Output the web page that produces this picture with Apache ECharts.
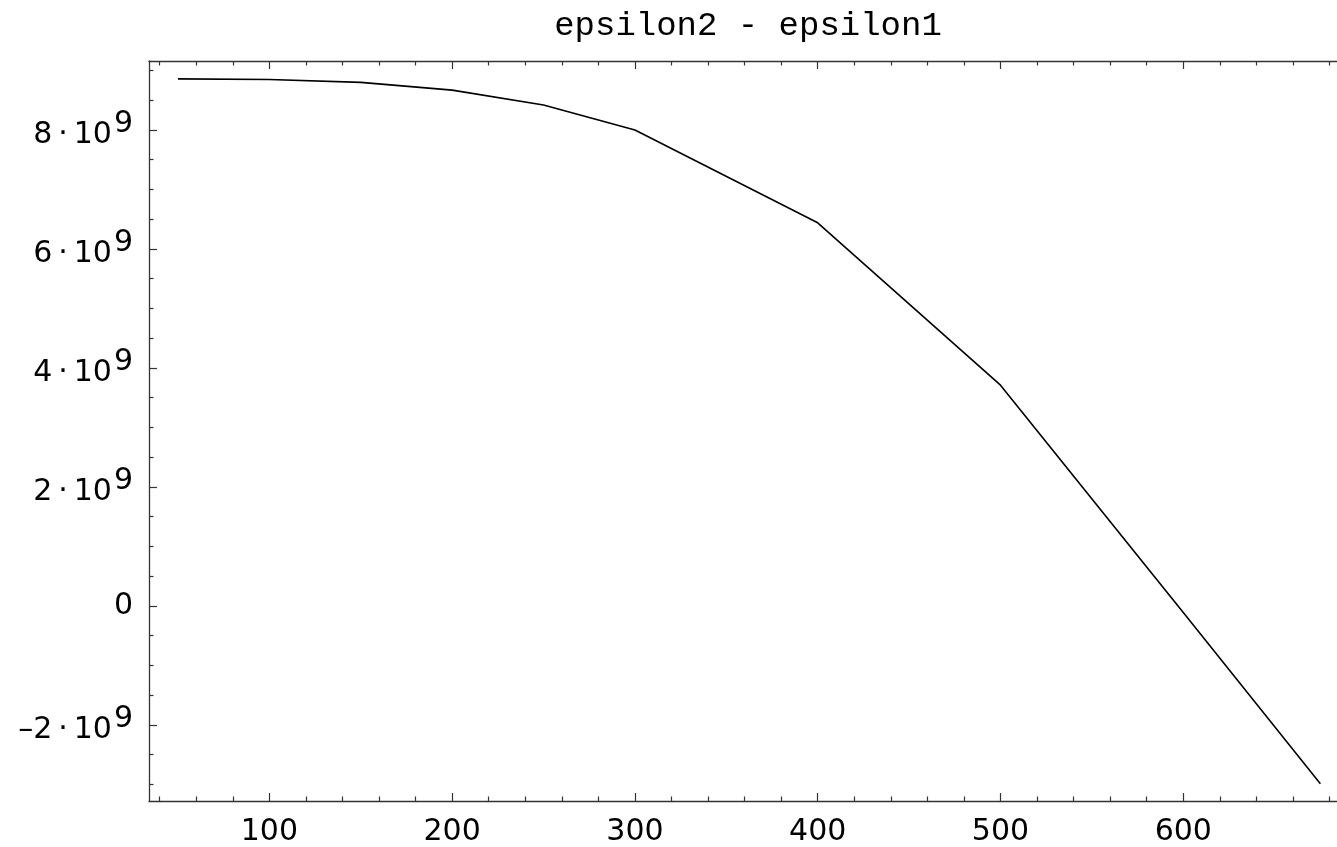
<!DOCTYPE html>
<html>
<head>
<meta charset="utf-8">
<script src="https://cdn.jsdelivr.net/npm/echarts@6/dist/echarts.min.js"></script>
<style>
  html, body { margin: 0; padding: 0; background: #fff; }
  #chart { width: 1337px; height: 847px; }
</style>
</head>
<body>
<div id="chart"></div>
<script>
const TITLE = "epsilon2 - epsilon1";

// sample points
const xValues = [50, 100, 150, 200, 250, 300, 400, 500, 600, 675];
const yValues = [8.86e9, 8.85e9, 8.80e9, 8.67e9, 8.42e9, 8.00e9, 6.44e9, 3.71e9, -0.11e9, -2.99e9];

// tick positions
const xMajorTicks = [100, 200, 300, 400, 500, 600];
const xMinorTicks = [40, 60, 80, 120, 140, 160, 180, 220, 240, 260, 280, 320, 340, 360, 380,
  420, 440, 460, 480, 520, 540, 560, 580, 620, 640, 660, 680];
const yMajorTicks = [-2e9, 0, 2e9, 4e9, 6e9, 8e9];
const yMinorTicks = [-3e9, -2.5e9, -1.5e9, -1e9, -0.5e9, 0.5e9, 1e9, 1.5e9, 2.5e9, 3e9, 3.5e9,
  4.5e9, 5e9, 5.5e9, 6.5e9, 7e9, 7.5e9, 8.5e9, 9e9];

// frame runs past the right edge of the picture
const X_MIN = 34.15, X_MAX = 684.1;
const Y_MIN = -3.28e9, Y_MAX = 9.16e9;

const FRAME = "#333";
const LABEL_FONT = "DejaVu Sans";

function yLabel(v) {
  if (v === 0) return "{b|0}";
  const m = Math.round(v / 1e9);
  const sign = m < 0 ? "\u2013" : "";
  return `{b|${sign}${Math.abs(m)}\u2009\u00b7\u200910}{s|9}`;
}

function xAxisDef(pos, ticks, len, withLabel, withLine) {
  return {
    type: "value",
    position: pos,
    min: X_MIN,
    max: X_MAX,
    axisLine: { show: withLine, onZero: false, lineStyle: { color: FRAME, width: 1.3 } },
    axisTick: { show: true, inside: true, length: len, customValues: ticks, lineStyle: { color: FRAME, width: 1.2 } },
    axisLabel: withLabel
      ? { show: true, customValues: ticks, margin: 16, color: "#000", fontFamily: LABEL_FONT, fontSize: 30 }
      : { show: false },
    splitLine: { show: false },
  };
}

function yAxisDef(ticks, len, withLabel, withLine) {
  return {
    type: "value",
    position: "left",
    min: Y_MIN,
    max: Y_MAX,
    axisLine: { show: withLine, onZero: false, lineStyle: { color: FRAME, width: 1.3 } },
    axisTick: { show: true, inside: true, length: len, customValues: ticks, lineStyle: { color: FRAME, width: 1.2 } },
    axisLabel: withLabel
      ? {
          show: true,
          customValues: ticks,
          margin: 16,
          formatter: yLabel,
          rich: {
            b: { fontFamily: LABEL_FONT, fontSize: 30, color: "#000", verticalAlign: "bottom" },
            s: { fontFamily: LABEL_FONT, fontSize: 30, color: "#000", verticalAlign: "bottom", padding: [0, 0, 11, 2] },
          },
        }
      : { show: false },
    splitLine: { show: false },
  };
}

const chart = echarts.init(document.getElementById("chart"), null, { renderer: "canvas" });

chart.setOption({
  animation: false,
  backgroundColor: "#fff",
  grid: { left: 149, top: 61, right: 0, bottom: 46, containLabel: false },
  graphic: [
    {
      type: "text",
      x: 748,
      y: 26,
      style: {
        text: TITLE,
        fill: "#000",
        font: '34px "Liberation Mono", "DejaVu Sans Mono", monospace',
        textAlign: "center",
        textVerticalAlign: "middle",
      },
    },
  ],
  xAxis: [
    xAxisDef("bottom", xMajorTicks, 8, true, true),
    xAxisDef("bottom", xMinorTicks, 4.5, false, false),
    xAxisDef("top", xMajorTicks, 8, false, true),
    xAxisDef("top", xMinorTicks, 4.5, false, false),
  ],
  yAxis: [
    yAxisDef(yMajorTicks, 8, true, true),
    yAxisDef(yMinorTicks, 4.5, false, false),
  ],
  series: [
    {
      type: "line",
      xAxisIndex: 0,
      yAxisIndex: 0,
      showSymbol: false,
      data: xValues.map((x, i) => [x, yValues[i]]),
      lineStyle: { color: "#000", width: 1.6 },
    },
  ],
});
</script>
</body>
</html>
